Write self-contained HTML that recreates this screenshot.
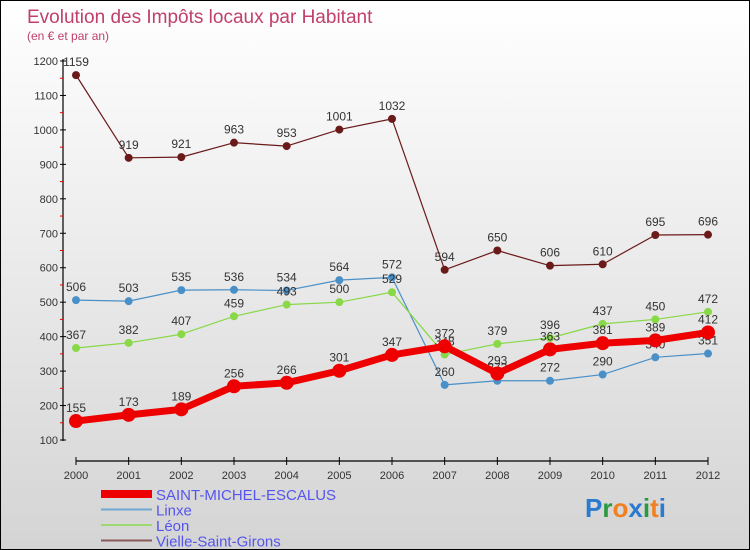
<!DOCTYPE html>
<html><head><meta charset="utf-8"><style>
body{margin:0}
#c{width:748px;height:548px;border:1px solid #000;background:linear-gradient(#fff,#d4d4d4);position:relative;font-family:"Liberation Sans",sans-serif;overflow:hidden}
svg{position:absolute;left:0;top:0}
</style></head><body>
<div id="c">
<svg id="s" width="750" height="550">
<text x="26" y="22" font-size="19" fill="#c0406a">Evolution des Impôts locaux par Habitant</text>
<text x="26" y="39" font-size="12" fill="#c0406a">(en € et par an)</text>
</svg>
</div>
<script>
const years=[2000,2001,2002,2003,2004,2005,2006,2007,2008,2009,2010,2011,2012];
const yTicks=[100,200,300,400,500,600,700,800,900,1000,1100,1200];
const stMichel=[155,173,189,256,266,301,347,372,293,363,381,389,412];
const linxe=[506,503,535,536,534,564,572,260,272,272,290,340,351];
const leon=[367,382,407,459,493,500,529,348,379,396,437,450,472];
const vielle=[1159,919,921,963,953,1001,1032,594,650,606,610,695,696];
const NS='http://www.w3.org/2000/svg';
const s=document.getElementById('s');
const X=i=>75+i*(707-75)/12;
const Y=v=>439-(v-100)*(439-60)/1100;
function el(t,a,p){const e=document.createElementNS(NS,t);for(const k in a)e.setAttribute(k,a[k]);(p||s).appendChild(e);return e;}
// axes
const ax=el('line',{x1:62,y1:58,x2:62,y2:440,stroke:'#000','stroke-width':1.2});


const bx=el('line',{x1:75,y1:460,x2:707,y2:460,stroke:'#000','stroke-width':1.2});


yTicks.forEach(v=>{
 el('line',{x1:59,y1:Y(v),x2:65,y2:Y(v),stroke:'#000'});
 if(v<1200) el('line',{x1:59,y1:Y(v+50),x2:62,y2:Y(v+50),stroke:'#e00'});
 const t=el('text',{x:57,y:Y(v)+4,'font-size':11,fill:'#333','text-anchor':'end'});
 t.textContent=v;
 
 
});
years.forEach((y,i)=>{
 el('line',{x1:X(i),y1:456,x2:X(i),y2:464,stroke:'#000'});
 const t=el('text',{x:X(i),y:478,'font-size':11,fill:'#333','text-anchor':'middle'});
 t.textContent=y;
 
 
});
function series(data,color,w,r,name){
 const g=el('g',{});
 
 
 el('polyline',{points:data.map((v,i)=>X(i)+','+Y(v)).join(' '),fill:'none',stroke:color,'stroke-width':w,'stroke-linejoin':'round'},g);
 data.forEach((v,i)=>{
  const c=el('circle',{cx:X(i),cy:Y(v),r:r,fill:color},g);
  
  
  const t=el('text',{x:X(i),y:Y(v)-9,'font-size':12,fill:'#333','text-anchor':'middle'},g);
  t.textContent=v;
  
  
 });
}
series(vielle,'#6b1a1a',1.2,4,'vielle-series');
series(linxe,'#4a90c8',1.2,4,'linxe-series');
series(leon,'#88d848',1.2,4,'leon-series');
series(stMichel,'#ee0000',7,7,'saint-michel-series');
// legend
const leg=[['SAINT-MICHEL-ESCALUS','#ee0000',8],['Linxe','#6fa8d0',2],['Léon','#9ed870',2],['Vielle-Saint-Girons','#8a5a5a',2]];
leg.forEach((l,i)=>{
 const yy=493+i*15.5;
 const g=el('g',{});
 
 
 el('line',{x1:100,y1:yy,x2:151,y2:yy,stroke:l[1],'stroke-width':l[2]},g);
 const t=el('text',{x:155,y:yy+6,'font-size':15,fill:'#5555ee'},g);
 t.textContent=l[0];
});
const logo=el('text',{x:584,y:516,'font-size':26,'font-weight':'bold'});


[['P','#2a7ad0'],['r','#2a9a40'],['o','#f08020'],['x','#2a7ad0'],['i','#2a9a40'],['t','#f08020'],['i','#2a7ad0']].forEach(p=>{const ts=el('tspan',{fill:p[1]},logo);ts.textContent=p[0];});
</script>
</body></html>
